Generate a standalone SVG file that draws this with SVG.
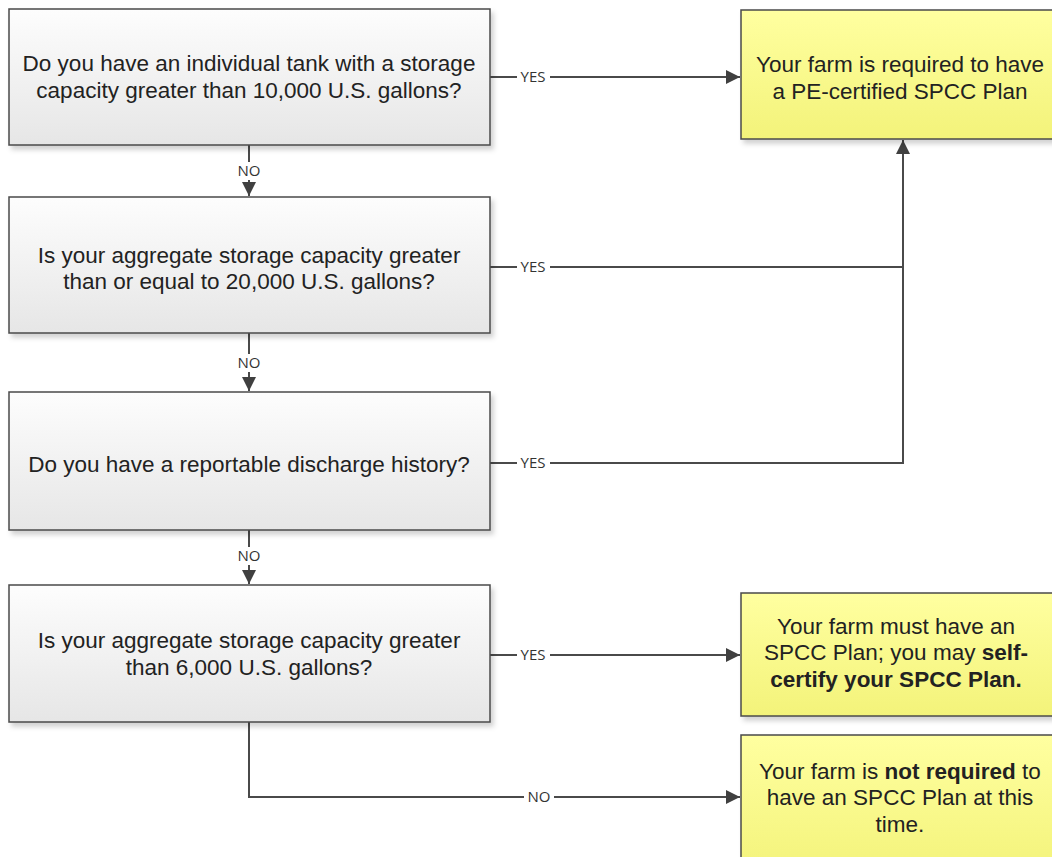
<svg xmlns="http://www.w3.org/2000/svg" width="1052" height="857" viewBox="0 0 1052 857">
<style>
.q{font-family:"Liberation Sans",Arial,sans-serif;font-size:22.5px;fill:#222;text-anchor:middle}
.b{font-weight:bold}
.lbl{font-family:"Open Sans","Liberation Sans",sans-serif;font-size:15px;fill:#333;text-anchor:middle}
.box{fill:url(#gq);stroke:#4a4a4a;stroke-width:1.5;filter:url(#sh)}
.ybox{fill:url(#gy);stroke:#4a4a4a;stroke-width:1.5;filter:url(#sh)}
.con{fill:none;stroke:#4a4a4a;stroke-width:2}
.bg{fill:#fff}
</style>
<defs>
<linearGradient id="gq" x1="0" y1="0" x2="0" y2="1"><stop offset="0" stop-color="#fdfdfd"/><stop offset="1" stop-color="#e6e6e6"/></linearGradient>
<linearGradient id="gy" x1="0" y1="0" x2="0" y2="1"><stop offset="0" stop-color="#ffffa0"/><stop offset="1" stop-color="#f3f37a"/></linearGradient>
<filter id="sh" x="-5%" y="-5%" width="115%" height="125%"><feDropShadow dx="3" dy="4" stdDeviation="2.5" flood-color="#000" flood-opacity="0.18"/></filter>
<marker id="ah" viewBox="0 0 12 12" refX="12" refY="6" markerWidth="14" markerHeight="14" markerUnits="userSpaceOnUse" orient="auto"><path d="M0,0 L12,6 L0,12 Z" fill="#404040"/></marker>
</defs>
<rect width="1052" height="857" fill="#fff"/>

<g id="connectors">
<path class="con" d="M490,77 H740" marker-end="url(#ah)"/>
<rect class="bg" x="517" y="68" width="33" height="18"/><text class="lbl" x="533" y="82">YES</text>

<path class="con" d="M249,145 V196" marker-end="url(#ah)"/>
<rect class="bg" x="234" y="162" width="30" height="18"/><text class="lbl" x="249" y="176">NO</text>

<path class="con" d="M490,267 H903"/>
<rect class="bg" x="517" y="258" width="33" height="18"/><text class="lbl" x="533" y="272">YES</text>

<path class="con" d="M249,333 V391" marker-end="url(#ah)"/>
<rect class="bg" x="234" y="354" width="30" height="18"/><text class="lbl" x="249" y="368">NO</text>

<path class="con" d="M490,463 H903 V140" marker-end="url(#ah)"/>
<rect class="bg" x="517" y="454" width="33" height="18"/><text class="lbl" x="533" y="468">YES</text>

<path class="con" d="M249,530 V584" marker-end="url(#ah)"/>
<rect class="bg" x="234" y="547" width="30" height="18"/><text class="lbl" x="249" y="561">NO</text>

<path class="con" d="M490,655 H740" marker-end="url(#ah)"/>
<rect class="bg" x="517" y="646" width="33" height="18"/><text class="lbl" x="533" y="660">YES</text>

<path class="con" d="M249,722 V797 H740" marker-end="url(#ah)"/>
<rect class="bg" x="524" y="788" width="30" height="18"/><text class="lbl" x="539" y="802">NO</text>
</g>

<g id="q1">
<rect class="box" x="9" y="9" width="481" height="136"/>
<text class="q" x="249" y="71">Do you have an individual tank with a storage</text>
<text class="q" x="249" y="98">capacity greater than 10,000 U.S. gallons?</text>
</g>
<g id="q2">
<rect class="box" x="9" y="197" width="481" height="136"/>
<text class="q" x="249" y="263">Is your aggregate storage capacity greater</text>
<text class="q" x="249" y="289">than or equal to 20,000 U.S. gallons?</text>
</g>
<g id="q3">
<rect class="box" x="9" y="392" width="481" height="138"/>
<text class="q" x="249" y="472">Do you have a reportable discharge history?</text>
</g>
<g id="q4">
<rect class="box" x="9" y="585" width="481" height="137"/>
<text class="q" x="249" y="648">Is your aggregate storage capacity greater</text>
<text class="q" x="249" y="675">than 6,000 U.S. gallons?</text>
</g>

<g id="r1">
<rect class="ybox" x="741" y="10" width="320" height="129"/>
<text class="q" x="900" y="72">Your farm is required to have</text>
<text class="q" x="900" y="99">a PE-certified SPCC Plan</text>
</g>
<g id="r2">
<rect class="ybox" x="741" y="593" width="320" height="123"/>
<text class="q" x="896" y="634">Your farm must have an</text>
<text class="q" x="896" y="660">SPCC Plan; you may <tspan class="b">self-</tspan></text>
<text class="q b" x="896" y="687">certify your SPCC Plan.</text>
</g>
<g id="r3">
<rect class="ybox" x="741" y="735" width="320" height="140"/>
<text class="q" x="900" y="779">Your farm is <tspan class="b">not required</tspan> to</text>
<text class="q" x="900" y="805">have an SPCC Plan at this</text>
<text class="q" x="900" y="832">time.</text>
</g>
</svg>
